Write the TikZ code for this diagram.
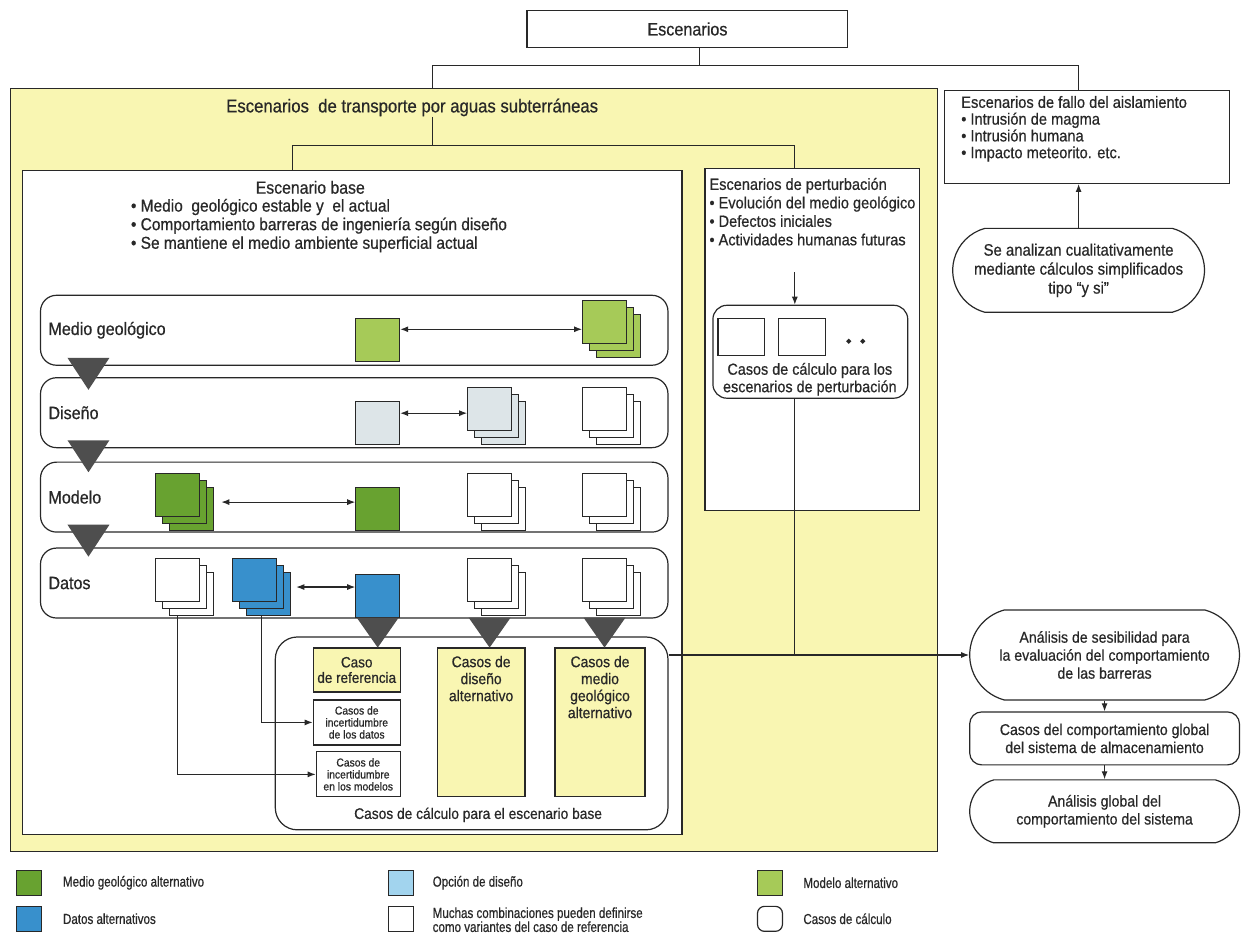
\documentclass[tikz,border=0pt]{standalone}
\usepackage{fontspec}
\setmainfont{Liberation Sans}[FakeStretch=0.9,FakeBold=0.6]
\newfontfamily\legendfont{Liberation Sans}[FakeStretch=0.8,FakeBold=0.6]
\usetikzlibrary{shapes.misc,arrows.meta}

\definecolor{panel}{RGB}{249,246,178}
\definecolor{geoL}{RGB}{166,202,88}
\definecolor{geoD}{RGB}{104,162,48}
\definecolor{dato}{RGB}{56,144,204}
\definecolor{disG}{RGB}{221,229,232}
\definecolor{disL}{RGB}{162,212,238}
\definecolor{ink}{RGB}{40,40,40}
\definecolor{tri}{RGB}{78,78,78}

% font size and line distance, both in pt
\newcommand\fs[2]{\fontsize{#1}{#2}\selectfont}

% a pile of three sheets: name, x, y (top-left of front sheet), fill
\newcommand\pile[4]{%
  \node[sheet,fill=#4,anchor=north west] (#1-3) at (#2+14,#3+14) {};
  \node[sheet,fill=#4,anchor=north west] (#1-2) at (#2+7,#3+7) {};
  \node[sheet,fill=#4,anchor=north west] (#1) at (#2,#3) {};
}

\begin{document}
\begin{tikzpicture}[x=1pt,y=-1pt,
  every path/.style={line width=1.1pt,draw=ink},
  box/.style={draw=ink,line width=1.2pt,inner sep=0pt},
  rowbox/.style={draw=ink,line width=1.2pt,rounded corners=16pt,fill=white,minimum width=628pt,minimum height=70pt},
  sheet/.style={draw=ink,line width=1pt,minimum width=44pt,minimum height=43pt,inner sep=0pt},
  lbl/.style={inner sep=0pt,align=center,text=ink},
  stad/.style={draw=ink,line width=1.2pt,rounded rectangle,rounded rectangle arc length=150,fill=white,inner sep=0pt,align=center,text=ink},
  arr/.style={-{Latex[length=8pt,width=6pt]}},
  dbl/.style={{Latex[length=8pt,width=6pt]}-{Latex[length=8pt,width=6pt]}},
  marker/.style={fill=tri,draw=none},
]
\useasboundingbox (0,0) rectangle (1244,942);
\fill[white] (0,0) rectangle (1244,942);

% ---- top level ----
\node[box,minimum width=321pt,minimum height=37pt,font=\fs{18}{20},text=ink] (esc) at (687.5,28.5) {Escenarios};
\node[box,fill=panel,minimum width=928pt,minimum height=764pt] (trans) at (474,470) {};
\node[lbl,font=\fs{18.6}{20}] (tit) at (412,107) {Escenarios\ \ de transporte por aguas subterráneas};
\node[box,fill=white,minimum width=285pt,minimum height=93pt] (fallo) at (1087.5,136.5) {};
\node[lbl,anchor=north west,align=left,font=\fs{16.3}{16.8}] (falloT) at (961,95)
  {Escenarios de fallo del aislamiento\\• Intrusión de magma\\• Intrusión humana\\• Impacto meteorito. etc.};
\node[stad,minimum width=252pt,minimum height=84pt,font=\fs{16.6}{19}] (yq) at (1079,270)
  {Se analizan cualitativamente\\mediante cálculos simplificados\\tipo “y si”};

\draw (esc.south -| 700,0) -- (700,65);
\draw (trans.north -| 432,0) -- (432,65) -- (1079,65) -- (fallo.north -| 1079,0);
\draw[arr] (yq.north) -- (yq.north |- fallo.south);

% ---- groundwater scenarios ----
\node[box,fill=white,minimum width=660pt,minimum height=665pt] (base) at (352,502.5) {};
\node[box,fill=white,minimum width=215pt,minimum height=342pt] (pert) at (812.5,339) {};
\draw (tit.south -| 432,0) -- (432,145);
\draw (base.north -| 292,0) -- (292,145) -- (795,145) -- (pert.north -| 795,0);

\node[lbl,font=\fs{17.6}{19}] (baseT) at (310,187) {Escenario base};
\node[lbl,anchor=north west,align=left,font=\fs{17.2}{18.6}] (baseB) at (130,198)
  {• Medio\ \ geológico estable y\ \ el actual\\• Comportamiento barreras de ingeniería según diseño\\• Se mantiene el medio ambiente superficial actual};

% rows of the base scenario
\node[rowbox] (r1) at (354,330) {};
\node[rowbox] (r2) at (354,412.5) {};
\node[rowbox] (r3) at (354,497) {};
\node[rowbox] (r4) at (354,583) {};
\foreach \r/\t in {r1/Medio geológico,r2/Diseño,r3/Modelo,r4/Datos}
  \node[lbl,anchor=west,font=\fs{17.9}{19}] (\r-l) at ([xshift=8pt]\r.west) {\t};
\foreach \r in {r1,r2,r3}
  \fill[marker] (\r.south -| 88,0) ++(-21,-8) -- ++(42,0) -- ++(-21,32) -- cycle;

% Medio geologico
\node[sheet,fill=geoL,anchor=north west] (mgS) at (355,318) {};
\pile{mgP}{582}{300}{geoL}
\draw[dbl] (mgS.east |- 0,329) -- (mgP.west |- 0,329);
% Diseno
\node[sheet,fill=disG,anchor=north west] (dsS) at (355,401) {};
\pile{dsP}{467}{387}{disG}
\pile{dsW}{582}{387}{white}
\draw[dbl] (dsS.east |- 0,413) -- (dsP.west |- 0,413);
% Modelo
\pile{mdP}{155}{473}{geoD}
\node[sheet,fill=geoD,anchor=north west] (mdS) at (355,487) {};
\pile{mdW}{467}{473}{white}
\pile{mdX}{582}{473}{white}
\draw[dbl] ([xshift=14pt]mdP-2.east) -- (mdP-2.east -| mdS.west);
% Datos
\pile{dW}{155}{558}{white}
\pile{dB}{232}{558}{dato}
\node[sheet,fill=dato,anchor=north west] (dS) at (355,574) {};
\pile{dtW}{467}{558}{white}
\pile{dtX}{582}{558}{white}
\draw[dbl] ([xshift=12pt]dB-2.east) -- (dB-2.east -| dS.west);

% calculation cases for the base scenario
\node[box,rounded corners=22pt,fill=white,minimum width=393pt,minimum height=193pt] (calc) at (471.5,733.5) {};
\node[lbl,font=\fs{15.3}{17}] (calcT) at (478,815) {Casos de cálculo para el escenario base};
\node[box,fill=panel,minimum width=87pt,minimum height=44pt,align=center,font=\fs{15}{15.5},text=ink] (ref) at (356.5,670) {Caso\\de referencia};
\node[box,fill=white,minimum width=87pt,minimum height=45pt,align=center,font=\fs{11.5}{12},text=ink] (idat) at (356.5,722.5) {Casos de\\incertidumbre\\de los datos};
\node[box,fill=white,minimum width=84pt,minimum height=45pt,align=center,font=\fs{11.5}{12},text=ink] (imod) at (358,774.5) {Casos de\\incertidumbre\\en los modelos};
\node[box,fill=panel,minimum width=88pt,minimum height=149pt] (dalt) at (481,722.5) {};
\node[box,fill=panel,minimum width=90pt,minimum height=149pt] (galt) at (600,722.5) {};
\node[lbl,anchor=north,font=\fs{15.5}{17}] (daltT) at ([yshift=-8pt]dalt.north) {Casos de\\diseño\\alternativo};
\node[lbl,anchor=north,font=\fs{15.5}{17}] (galtT) at ([yshift=-8pt]galt.north) {Casos de\\medio\\geológico\\alternativo};
\foreach \s in {dS,dtW,dtX}
  \fill[marker] (\s.south |- r4.south) ++(-21,-1) -- ++(42,0) -- ++(-21,30) -- cycle;

\draw[arr] (dW.south |- dW-3.south) |- (imod.west);
\draw[arr] (dB-2.south |- dB-3.south) |- (idat.west);

% perturbation scenarios
\node[lbl,anchor=north west,align=left,font=\fs{16.2}{18.5}] (pertT) at (709,177)
  {Escenarios de perturbación\\• Evolución del medio geológico\\• Defectos iniciales\\• Actividades humanas futuras};
\node[box,rounded corners=14pt,fill=white,minimum width=195pt,minimum height=93pt] (pin) at (810.5,351.5) {};
\node[box,fill=white,minimum width=47pt,minimum height=37pt] (pa) at (741.5,336.5) {};
\node[box,fill=white,minimum width=47pt,minimum height=37pt] (pb) at (802,336.5) {};
\fill[ink] (849,341) circle (1.8) (863,341) circle (1.8);
\node[lbl,font=\fs{16}{17.5}] (pinT) at (810,379) {Casos de cálculo para los\\escenarios de perturbación};
\coordinate (pdn) at (795,272);
\draw[arr] (pdn) -- (pdn |- pin.north);

% sensitivity analysis chain
\node[stad,minimum width=270pt,minimum height=90pt,font=\fs{15.7}{18}] (sens) at (1105,655)
  {Análisis de sesibilidad para\\la evaluación del comportamiento\\de las barreras};
\node[box,rounded corners=12pt,fill=white,minimum width=270pt,minimum height=53pt,align=center,font=\fs{15.7}{18},text=ink] (glob) at (1105,738.5)
  {Casos del comportamiento global\\del sistema de almacenamiento};
\node[stad,minimum width=270pt,minimum height=63pt,font=\fs{15.7}{18}] (fin) at (1105,811.5)
  {Análisis global del\\comportamiento del sistema};
\coordinate (jn) at (795,655);
\draw (pin.south -| jn) -- (jn);
\draw[arr] (calc.east |- sens.west) -- (sens.west);
\draw[arr] (sens.south) -- (glob.north);
\draw[arr] (glob.south) -- (fin.north);

% legend
\begin{scope}[every node/.append style={font=\legendfont\fs{14.5}{14},text=ink}]
\node[box,fill=geoD,minimum width=25pt,minimum height=25pt,anchor=north west] (lg1) at (15,870) {};
\node[anchor=west,inner sep=0pt] (lg1T) at (62,883) {Medio geológico alternativo};
\node[box,fill=dato,minimum width=25pt,minimum height=25pt,anchor=north west] (lg2) at (15,906) {};
\node[anchor=west,inner sep=0pt] (lg2T) at (62,919) {Datos alternativos};
\node[box,fill=disL,minimum width=25pt,minimum height=25pt,anchor=north west] (lg3) at (388,870) {};
\node[anchor=west,inner sep=0pt] (lg3T) at (432,883) {Opción de diseño};
\node[box,fill=white,minimum width=25pt,minimum height=25pt,anchor=north west] (lg4) at (388,906) {};
\node[anchor=west,inner sep=0pt,align=left] (lg4T) at (432,920) {Muchas combinaciones pueden definirse\\como variantes del caso de referencia};
\node[box,fill=geoL,minimum width=25pt,minimum height=25pt,anchor=north west] (lg5) at (757,870) {};
\node[anchor=west,inner sep=0pt] (lg5T) at (803,883) {Modelo alternativo};
\node[box,fill=white,rounded corners=7pt,minimum width=25pt,minimum height=25pt,anchor=north west] (lg6) at (757,906) {};
\node[anchor=west,inner sep=0pt] (lg6T) at (803,919) {Casos de cálculo};
\end{scope}
\end{tikzpicture}
\end{document}
